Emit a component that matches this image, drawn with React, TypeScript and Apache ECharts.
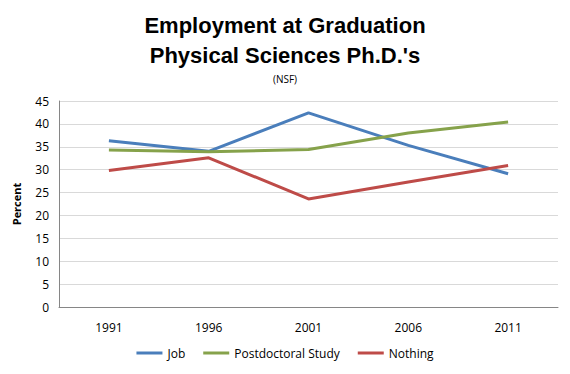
import React, { useEffect, useRef } from "react";
import * as echarts from "echarts";

const years = ["1991", "1996", "2001", "2006", "2011"];
const job = [36.3, 34.0, 42.4, 35.3, 29.1];
const postdoc = [34.3, 33.9, 34.4, 38.0, 40.4];
const nothing = [29.8, 32.6, 23.6, 27.3, 30.9];

export default function App() {
  const ref = useRef<HTMLDivElement>(null);
  useEffect(() => {
    const chart = echarts.init(ref.current!, null, { renderer: "svg" });
    const font = "'Open Sans', sans-serif";
    const titleFont = "'Liberation Sans', Arial, sans-serif";
    chart.setOption({
      animation: false,
      backgroundColor: "#ffffff",
      title: [
        {
          text: "Employment at Graduation",
          left: "center",
          top: 9,
          textStyle: { fontFamily: titleFont, fontWeight: "bold", fontSize: 22, color: "#000" },
        },
        {
          text: "Physical Sciences Ph.D.'s",
          left: "center",
          top: 39,
          textStyle: { fontFamily: titleFont, fontWeight: "bold", fontSize: 22, color: "#000" },
        },
        {
          text: "(NSF)",
          left: "center",
          top: 69,
          textStyle: { fontFamily: font, fontWeight: "normal", fontSize: 10, color: "#000" },
        },
      ],
      legend: {
        bottom: 10,
        left: "center",
        icon: "rect",
        itemWidth: 26,
        itemHeight: 3,
        itemGap: 18,
        textStyle: { fontFamily: font, fontSize: 12, color: "#000" },
        data: ["Job", "Postdoctoral Study", "Nothing"],
      },
      grid: { left: 59, right: 12, top: 101, bottom: 67 },
      xAxis: {
        type: "category",
        data: years,
        boundaryGap: true,
        axisLine: { lineStyle: { color: "#868686" } },
        axisTick: { show: false },
        axisLabel: { fontFamily: font, fontSize: 12, color: "#000", margin: 14 },
      },
      yAxis: {
        type: "value",
        min: 0,
        max: 45,
        interval: 5,
        name: "Percent",
        nameLocation: "middle",
        nameGap: 37,
        nameTextStyle: { fontFamily: font, fontWeight: "bold", fontSize: 11, color: "#000" },
        axisLine: { show: true, lineStyle: { color: "#868686" } },
        axisTick: { show: false },
        axisLabel: { fontFamily: font, fontSize: 12, color: "#000", margin: 10 },
        splitLine: { lineStyle: { color: "#d9d9d9" } },
      },
      series: [
        { name: "Job", type: "line", data: job, symbol: "none", color: "#4A7EBB", lineStyle: { width: 3, color: "#4A7EBB" } },
        { name: "Postdoctoral Study", type: "line", data: postdoc, symbol: "none", color: "#86A24B", lineStyle: { width: 3, color: "#86A24B" } },
        { name: "Nothing", type: "line", data: nothing, symbol: "none", color: "#BE4B48", lineStyle: { width: 3, color: "#BE4B48" } },
      ],
    });
    return () => chart.dispose();
  }, []);
  return <div ref={ref} style={{ width: 570, height: 374, position: "absolute", left: 0, top: 0 }} />;
}
